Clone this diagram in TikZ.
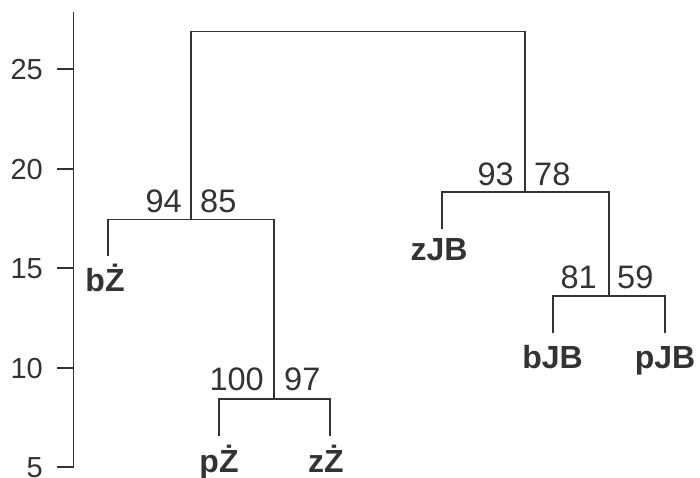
\documentclass[tikz,border=0pt]{standalone}
\usepackage{fontspec}
\setmainfont{Liberation Sans}
\definecolor{ink}{HTML}{333333}
\begin{document}
\begin{tikzpicture}[x=1pt,y=-1pt,
  edge/.style={draw=ink,line width=1.6pt},
  ticklab/.style={anchor=base east,text=ink,inner sep=0pt,font=\fontsize{29}{34}\selectfont},
  supl/.style={anchor=base east,text=ink,inner sep=0pt,font=\fontsize{32.5}{38}\selectfont},
  supr/.style={anchor=base west,text=ink,inner sep=0pt,font=\fontsize{32.5}{38}\selectfont},
  leaflab/.style={anchor=base,text=ink,inner sep=0pt,font=\fontsize{32}{38}\selectfont\bfseries}]
\useasboundingbox (0,0) rectangle (700,477);
% axis
\coordinate (axtop) at (73.5,12);
\coordinate (axbot) at (73.5,467);
\draw[edge] (axtop) -- (axbot);
\foreach \v/\y in {25/69,20/169,15/268,10/368,5/467}{
  \coordinate (t\v) at (73.5,\y);
  \coordinate (tl\v) at (57,\y);
  \draw[edge] (t\v) -- (tl\v);
  \node[ticklab] (lab\v) at (43,\y+10.5) {\v};
}
% tree nodes
\coordinate (root) at (358,31.5);
\coordinate (L) at (191,219.5);
\coordinate (N1) at (274,399);
\coordinate (R) at (525,192);
\coordinate (N2) at (609,296);
% leaf ends
\coordinate (bZ) at (108,256);
\coordinate (pZ) at (219,436);
\coordinate (zZ) at (330,436);
\coordinate (zJB) at (442,229);
\coordinate (bJB) at (553,333);
\coordinate (pJB) at (665,333);
% connectors
\draw[edge] (L) -- (L |- root) -- (R |- root) -- (R);
\draw[edge] (bZ) -- (bZ |- L) -- (N1 |- L) -- (N1);
\draw[edge] (pZ) -- (pZ |- N1) -- (zZ |- N1) -- (zZ);
\draw[edge] (zJB) -- (zJB |- R) -- (N2 |- R) -- (N2);
\draw[edge] (bJB) -- (bJB |- N2) -- (pJB |- N2) -- (pJB);
% support labels
\node[supl] (sL1) at ([xshift=-9pt,yshift=7.5pt]L) {94};
\node[supr] (sL2) at ([xshift=9pt,yshift=7.5pt]L) {85};
\node[supl] (sN11) at ([xshift=-10pt,yshift=9pt]N1) {100};
\node[supr] (sN12) at ([xshift=10pt,yshift=9pt]N1) {97};
\node[supl] (sR1) at ([xshift=-11pt,yshift=7pt]R) {93};
\node[supr] (sR2) at ([xshift=9pt,yshift=7pt]R) {78};
\node[supl] (sN21) at ([xshift=-12pt,yshift=8pt]N2) {81};
\node[supr] (sN22) at ([xshift=8pt,yshift=8pt]N2) {59};
% leaf labels
\node[leaflab] (lbZ) at (105,291) {bŻ};
\node[leaflab] (lpZ) at (219,472) {pŻ};
\node[leaflab] (lzZ) at (326,472) {zŻ};
\node[leaflab] (lzJB) at (439,260) {zJB};
\node[leaflab] (lbJB) at (552.5,368) {bJB};
\node[leaflab] (lpJB) at (665,368) {pJB};
\end{tikzpicture}
\end{document}
